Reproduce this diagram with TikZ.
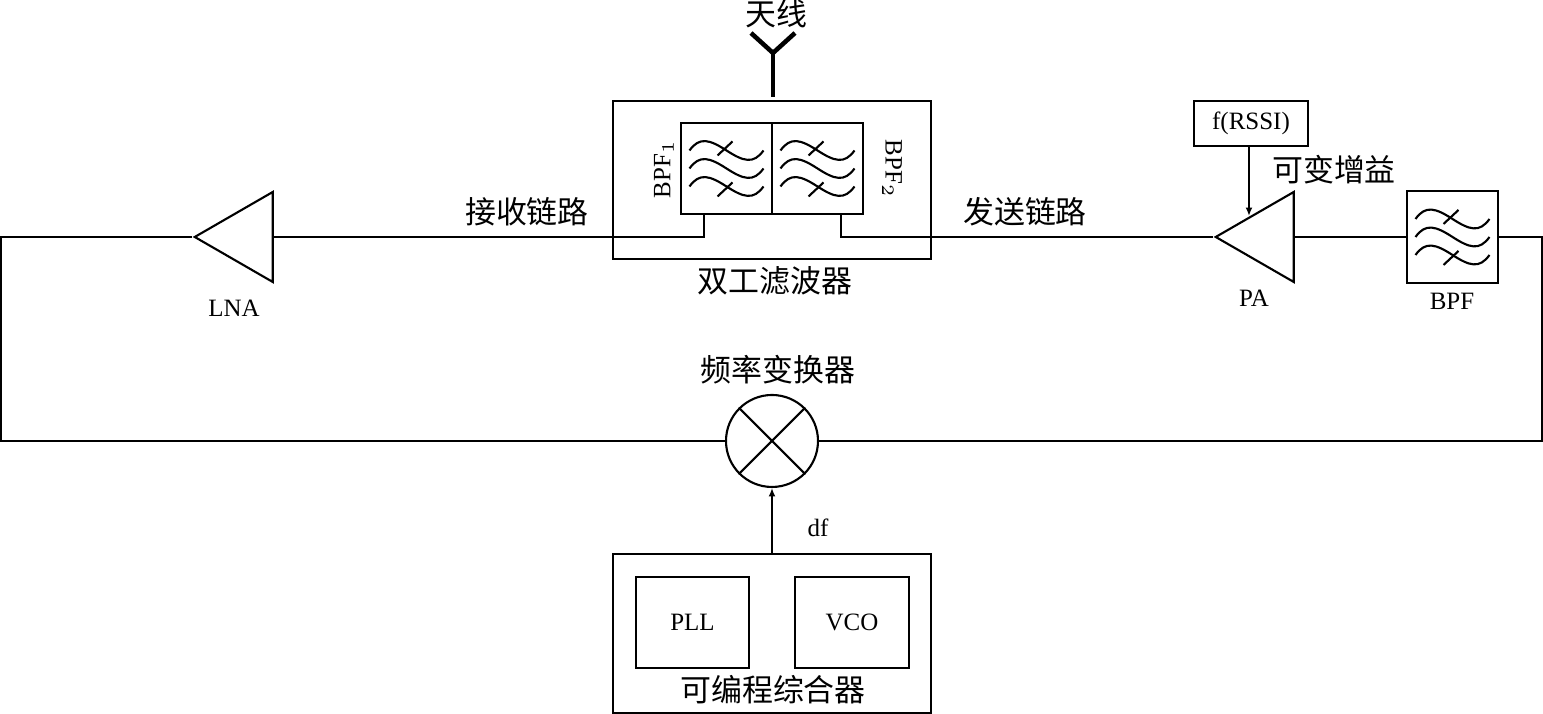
\documentclass[tikz,border=0pt]{standalone}
\usepackage{fontspec}
\setmainfont{Liberation Serif}
\newfontfamily\cjk{Noto Sans CJK SC}
\usetikzlibrary{arrows.meta,shapes.geometric}
\tikzset{
  wire/.style={line width=.6pt},
  blockbox/.style={draw, line width=.6pt, rectangle, inner sep=0pt},
  amp/.style={draw, line width=.6pt, isosceles triangle, isosceles triangle stretches,
    shape border rotate=180, minimum width=.9cm, minimum height=.78cm, inner sep=0pt, anchor=apex},
  lab/.style={font=\fontsize{7.1}{8}\selectfont, inner sep=0pt},
  hanzi/.style={font=\cjk\fontsize{8.8}{9}\selectfont, inner sep=0pt},
}
% three waves of a band-pass filter around a point
\newcommand{\bpfwaves}[1]{
  \begin{scope}[shift={(#1)}, line width=.6pt]
    \foreach \y in {-.18,0,.18}
      \draw (-.37,\y) .. controls (-.27,\y+.14) and (-.17,\y+.11) .. (0,\y)
        .. controls (.17,\y-.11) and (.27,\y-.14) .. (.37,\y);
    \draw (-.09,.13) -- (.06,.27);
    \draw (-.09,-.28) -- (.06,-.14);
  \end{scope}
}
\begin{document}
\begin{tikzpicture}[>={Latex[length=2.4pt,width=2pt]}]
\useasboundingbox (0,0) rectangle (15.43,7.14);
% duplexer
\node[blockbox, minimum width=3.18cm, minimum height=1.58cm] (duplexer) at (7.72,5.34) {};
\node[blockbox, minimum width=.91cm, minimum height=.91cm] (bpfa) at (7.265,5.455) {};
\node[blockbox, minimum width=.91cm, minimum height=.91cm] (bpfb) at (8.175,5.455) {};
\bpfwaves{bpfa}
\bpfwaves{bpfb}
\node[lab, rotate=90] (bpfalab) at (6.64,5.45) {BPF$_1$};
\node[lab, rotate=-90] (bpfblab) at (8.92,5.45) {BPF$_2$};
\node[hanzi] (duplexerlab) at (7.75,4.33) {双工滤波器};
% antenna
\coordinate (antfoot) at (7.73,6.17);
\coordinate (antjoint) at (7.73,6.61);
\coordinate (antl) at (7.51,6.81);
\coordinate (antr) at (7.95,6.81);
\draw[line width=1.3pt] (antfoot) -- (antjoint);
\draw[line width=1.3pt] (antl) -- (antjoint) -- (antr);
\node[hanzi] (antlab) at (7.76,7.00) {天线};
% amplifiers and transmit filter
\node[amp] (lna) at (1.92,4.77) {};
\node[amp] (pa) at (12.13,4.77) {};
\node[blockbox, minimum width=.91cm, minimum height=.92cm] (bpf) at (14.525,4.77) {};
\bpfwaves{bpf}
\node[lab] (lnalab) at (2.34,4.06) {LNA};
\node[lab] (palab) at (12.54,4.16) {PA};
\node[lab] (bpflab) at (14.52,4.13) {BPF};
\node[blockbox, minimum width=1.14cm, minimum height=.45cm, lab] (rssi) at (12.51,5.905) {f(RSSI)};
\coordinate (pagain) at (12.49,4.98);
\draw[wire,->] (rssi.south -| pagain) -- (pagain);
\node[hanzi] (gainlab) at (13.34,5.44) {可变增益};
\node[hanzi] (rxlab) at (5.27,5.02) {接收链路};
\node[hanzi] (txlab) at (10.25,5.02) {发送链路};
% mixer
\node[draw, wire, circle, minimum size=.92cm, inner sep=0pt] (mixer) at (7.72,2.73) {};
\draw[wire] (mixer.45) -- (mixer.225);
\draw[wire] (mixer.135) -- (mixer.315);
\node[hanzi] (mixerlab) at (7.78,3.44) {频率变换器};
% synthesizer
\node[blockbox, minimum width=3.18cm, minimum height=1.59cm] (synth) at (7.72,.805) {};
\node[blockbox, minimum width=1.13cm, minimum height=.91cm, lab] (pll) at (6.925,.915) {PLL};
\node[blockbox, minimum width=1.14cm, minimum height=.91cm, lab] (vco) at (8.52,.915) {VCO};
\node[hanzi] (synthlab) at (7.73,.24) {可编程综合器};
\draw[wire,->] (synth.north) -- (mixer.south);
\node[lab] (dflab) at (8.18,1.86) {df};
% signal loop
\coordinate (loopl) at (.01,2.73);
\coordinate (loopr) at (15.42,2.73);
\coordinate (stuba) at (7.04,5.00);
\coordinate (stubb) at (8.41,5.00);
\draw[wire] (mixer.west) -- (loopl) |- (lna.apex);
\draw[wire] (lna.lower side) -| (stuba);
\draw[wire] (pa.apex) -| (stubb);
\draw[wire] (pa.lower side) -- (bpf.west);
\draw[wire] (bpf.east) -| (loopr) -- (mixer.east);
\end{tikzpicture}
\end{document}
